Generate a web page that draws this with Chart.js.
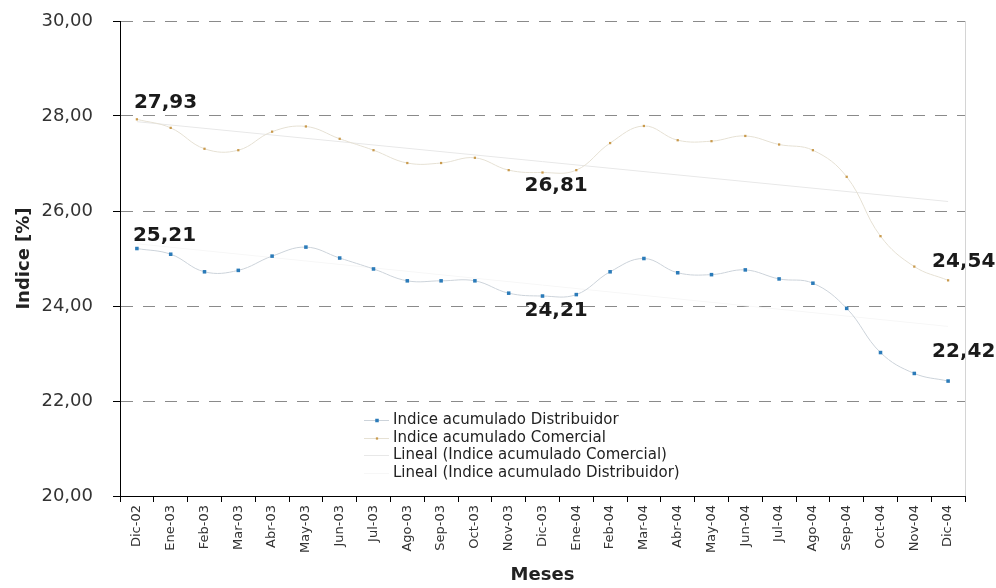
<!DOCTYPE html>
<html>
<head>
<meta charset="utf-8">
<title>Indice acumulado</title>
<script src="https://cdn.jsdelivr.net/npm/chart.js@4.4.1/dist/chart.umd.min.js"></script>
<style>
  html, body { margin: 0; padding: 0; background: #fff; }
  #chart { display: block; }
</style>
</head>
<body>
<canvas id="chart" width="996" height="588"></canvas>
<script>
// data
const months = ['Dic-02', 'Ene-03', 'Feb-03', 'Mar-03', 'Abr-03', 'May-03', 'Jun-03', 'Jul-03',
    'Ago-03', 'Sep-03', 'Oct-03', 'Nov-03', 'Dic-03', 'Ene-04', 'Feb-04', 'Mar-04', 'Abr-04',
    'May-04', 'Jun-04', 'Jul-04', 'Ago-04', 'Sep-04', 'Oct-04', 'Nov-04', 'Dic-04'];
const distribuidor = [25.21, 25.09, 24.72, 24.75, 25.05, 25.24, 25.01, 24.78, 24.53, 24.53, 24.53, 24.27,
    24.21, 24.24, 24.72, 25.00, 24.70, 24.66, 24.76, 24.57, 24.48, 23.95, 23.02, 22.58, 22.42];
const comercial = [27.93, 27.75, 27.31, 27.28, 27.67, 27.78, 27.52, 27.28, 27.01, 27.01, 27.12, 26.86,
    26.81, 26.86, 27.43, 27.79, 27.49, 27.47, 27.58, 27.40, 27.28, 26.72, 25.47, 24.83, 24.54];
// trend lines: value at first and last month (estimated)
const trendComercial = [27.88, 26.20];
const trendDistribuidor = [25.31, 23.57];
const yTicks = [20, 22, 24, 26, 28, 30];

function fmt(v) {
    return v.toFixed(2).replace('.', ',');
}

// only the two ends of a trend line, the rest is spanned
function trendSeries(ends) {
    return months.map((m, i) => {
        if (i === 0) return ends[0];
        if (i === months.length - 1) return ends[1];
        return null;
    });
}

// data labels next to first, middle and last points
const valueLabels = {
    id: 'valueLabels',
    afterDatasetsDraw(chart) {
        const ctx = chart.ctx;
        const marks = [
            { ds: 1, i: 0, dx: -3, dy: -17 },
            { ds: 0, i: 0, dx: -4, dy: -13 },
            { ds: 1, i: 12, dx: -18, dy: 13 },
            { ds: 0, i: 12, dx: -18, dy: 15 },
            { ds: 1, i: 24, dx: -16, dy: -19 },
            { ds: 0, i: 24, dx: -16, dy: -29 }
        ];
        ctx.save();
        ctx.font = 'bold 20px "DejaVu Sans"';
        ctx.fillStyle = '#1a1a1a';
        ctx.textBaseline = 'middle';
        ctx.textAlign = 'left';
        marks.forEach(m => {
            const pt = chart.getDatasetMeta(m.ds).data[m.i];
            const v = chart.data.datasets[m.ds].data[m.i];
            ctx.fillText(fmt(v), pt.x + m.dx, pt.y + m.dy);
        });
        ctx.restore();
    }
};

// legend drawn inside the plot, plus the faint right border
const legendBox = {
    id: 'legendBox',
    afterDraw(chart) {
        const ctx = chart.ctx;
        const area = chart.chartArea;
        ctx.save();
        ctx.strokeStyle = '#d4d4d4';
        ctx.lineWidth = 1;
        ctx.beginPath();
        ctx.moveTo(area.right + 0.5, area.top);
        ctx.lineTo(area.right + 0.5, area.bottom);
        ctx.stroke();

        ctx.font = '15px "DejaVu Sans"';
        ctx.textBaseline = 'middle';
        ctx.textAlign = 'left';
        chart.data.datasets.forEach((ds, i) => {
            const y = Math.round(420 + i * 17.7) + 0.5;
            ctx.strokeStyle = ds.borderColor;
            ctx.beginPath();
            ctx.moveTo(364, y);
            ctx.lineTo(389, y);
            ctx.stroke();
            if (ds.pointRadius > 0) {
                const s = ds.pointRadius * 1.4;
                ctx.fillStyle = ds.pointBackgroundColor;
                ctx.fillRect(377 - s / 2, y - s / 2, s, s);
            }
            ctx.fillStyle = '#222';
            ctx.fillText(ds.label, 393, y);
        });
        ctx.restore();
    }
};

document.addEventListener('DOMContentLoaded', function() {
    const ctx = document.getElementById('chart').getContext('2d');
    new Chart(ctx, {
        type: 'line',
        data: {
            labels: months,
            datasets: [{
                label: 'Indice acumulado Distribuidor',
                data: distribuidor,
                borderColor: '#ccd3da',
                borderWidth: 1,
                pointStyle: 'rect',
                pointRadius: 2.5,
                pointBorderWidth: 0,
                pointBackgroundColor: '#2b7bb9',
                tension: 0.4
            }, {
                label: 'Indice acumulado Comercial',
                data: comercial,
                borderColor: '#e6e1d4',
                borderWidth: 1,
                pointStyle: 'rect',
                pointRadius: 1.6,
                pointBorderWidth: 0,
                pointBackgroundColor: '#c99a4c',
                tension: 0.4
            }, {
                label: 'Lineal (Indice acumulado Comercial)',
                data: trendSeries(trendComercial),
                borderColor: '#e8e8e8',
                borderWidth: 1,
                pointRadius: 0,
                spanGaps: true,
                tension: 0
            }, {
                label: 'Lineal (Indice acumulado Distribuidor)',
                data: trendSeries(trendDistribuidor),
                borderColor: '#f7f7f7',
                borderWidth: 1,
                pointRadius: 0,
                spanGaps: true,
                tension: 0
            }]
        },
        options: {
            responsive: false,
            animation: false,
            events: [],
            layout: { padding: { left: 0, right: 31, top: 21, bottom: 0 } },
            plugins: {
                legend: { display: false },
                tooltip: { enabled: false }
            },
            scales: {
                x: {
                    offset: true,
                    grid: {
                        offset: true,
                        drawOnChartArea: false,
                        drawTicks: true,
                        tickLength: 6,
                        tickColor: '#000'
                    },
                    border: { color: '#000', width: 1 },
                    ticks: {
                        autoSkip: false,
                        maxRotation: 90,
                        minRotation: 90,
                        padding: 3,
                        color: '#333',
                        font: { family: 'DejaVu Sans', size: 13 }
                    },
                    title: {
                        display: true,
                        text: 'Meses',
                        color: '#222',
                        font: { family: 'DejaVu Sans', size: 18, weight: 'bold' },
                        padding: { top: 0, bottom: 2 }
                    },
                    afterFit(scale) { scale.height = 92; }
                },
                y: {
                    min: 20,
                    max: 30,
                    afterBuildTicks(scale) {
                        scale.ticks = yTicks.map(v => ({ value: v }));
                    },
                    grid: {
                        color: '#8a8a8a',
                        lineWidth: 1,
                        tickLength: 7,
                        tickColor: '#000',
                        tickBorderDash: []
                    },
                    border: { color: '#000', width: 1, dash: [12, 10] },
                    ticks: {
                        padding: 20,
                        color: '#333',
                        font: { family: 'DejaVu Sans', size: 18 },
                        callback: v => fmt(v)
                    },
                    title: {
                        display: true,
                        text: 'Indice [%]',
                        color: '#222',
                        font: { family: 'DejaVu Sans', size: 18, weight: 'bold' },
                        padding: { top: 14, bottom: 0 }
                    },
                    afterFit(scale) {
                        scale.width = 120;
                        // tick padding should not push the plot down
                        scale.paddingTop = 11;
                        scale.paddingBottom = 11;
                    }
                }
            }
        },
        plugins: [valueLabels, legendBox]
    });
});
</script>
</body>
</html>
